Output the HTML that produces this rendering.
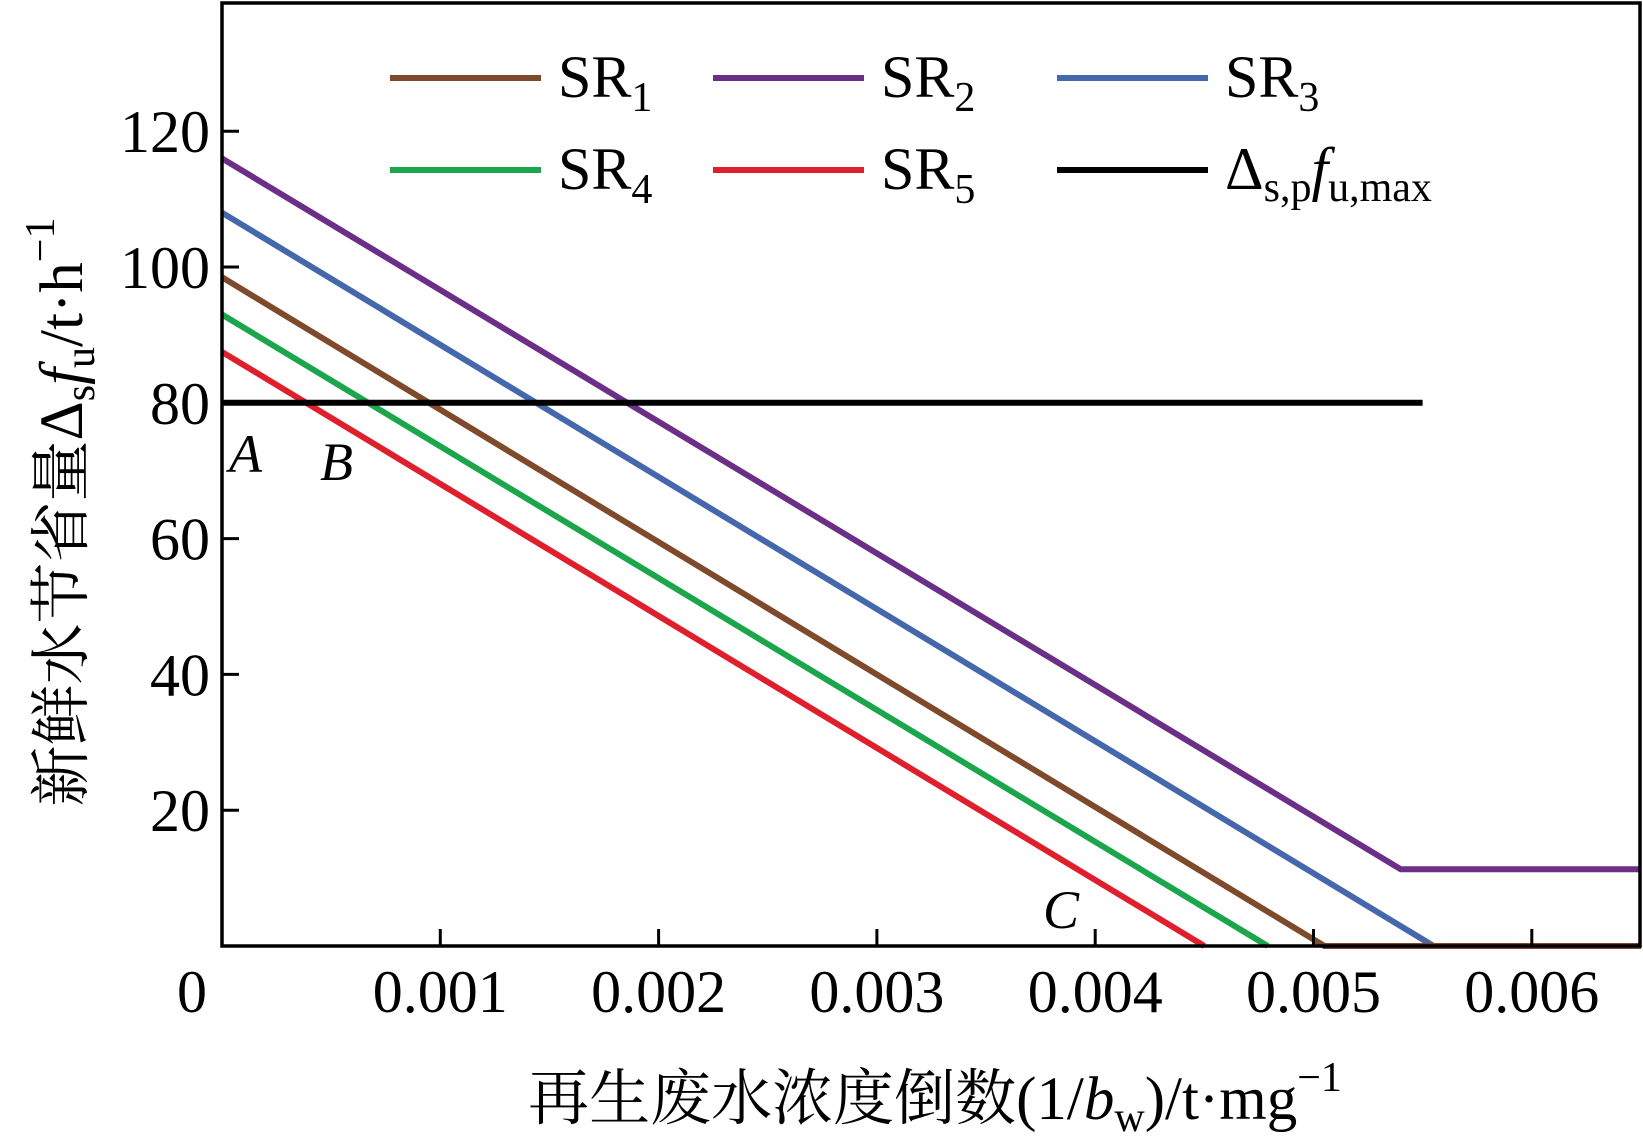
<!DOCTYPE html>
<html><head><meta charset="utf-8"><style>
html,body{margin:0;padding:0;background:#fff;}
svg{display:block;font-family:"Liberation Serif","Noto Serif CJK SC",serif;}
</style></head><body>
<svg id="chart" width="1643" height="1146" viewBox="0 0 1643 1146">
<rect x="0" y="0" width="1643" height="1146" fill="#fff"/>
<g id="marks"></g>
<rect x="222" y="3" width="1418" height="943" fill="none" stroke="#000" stroke-width="3.5"/>
<g id="ticks"></g>
<text x="192" y="1012" font-size="60" text-anchor="middle">0</text>
<text x="935" y="1119" font-size="61" text-anchor="middle">再生废水浓度倒数(1/<tspan font-style="italic">b</tspan><tspan font-size="42" dy="12">w</tspan><tspan dy="-12">)/t·mg</tspan><tspan font-size="42" dy="-28">−1</tspan></text>
<text transform="translate(82,512) rotate(-90)" font-size="61" text-anchor="middle">新鲜水节省量Δ<tspan font-size="42" dy="12">s</tspan><tspan dy="-12" font-style="italic">f</tspan><tspan font-size="42" dy="12">u</tspan><tspan dy="-12">/t·h</tspan><tspan font-size="42" dy="-28">−1</tspan></text>
<text x="229" y="472" font-size="54" font-style="italic">A</text>
<text x="320" y="480" font-size="54" font-style="italic">B</text>
<text x="1043" y="928" font-size="54" font-style="italic">C</text>
<g id="legend"></g>
</svg>
<script>
const xTicks = [0.001, 0.002, 0.003, 0.004, 0.005, 0.006];
const xTickLabels = ["0.001", "0.002", "0.003", "0.004", "0.005", "0.006"];
const yTicks = [20, 40, 60, 80, 100, 120];
const seriesNames = ["SR1", "SR2", "SR3", "SR4", "SR5", "max"];
const sr1X = [0, 0.00505, 0.0065];
const sr1Y = [98.5, 0, 0];
const sr2X = [0, 0.0054, 0.0065];
const sr2Y = [116, 11.3, 11.3];
const sr3X = [0, 0.00555];
const sr3Y = [108, 0];
const sr4X = [0, 0.00479];
const sr4Y = [93, 0];
const sr5X = [0, 0.0045];
const sr5Y = [87.5, 0];
const maxX = [0, 0.0055];
const maxY = [80, 80];

const NS = "http://www.w3.org/2000/svg";
const X0 = 222, XPER = 218300, Y0 = 946, YPER = 6.79;
function sx(v){ return X0 + v * XPER; }
function sy(v){ return Y0 - v * YPER; }
function mk(tag, attrs, parent){ const e = document.createElementNS(NS, tag); for (const k in attrs) e.setAttribute(k, attrs[k]); parent.appendChild(e); return e; }

const marks = document.getElementById('marks');
const series = [
  {name:'sr3', xs:sr3X, ys:sr3Y, c:'#4468ab'},
  {name:'sr2', xs:sr2X, ys:sr2Y, c:'#6b2f87'},
  {name:'sr4', xs:sr4X, ys:sr4Y, c:'#1ba64c'},
  {name:'sr5', xs:sr5X, ys:sr5Y, c:'#e01f2d'},
  {name:'sr1', xs:sr1X, ys:sr1Y, c:'#7e4a2b'},
  {name:'max', xs:maxX, ys:maxY, c:'#000'}
];
series.forEach(s => {
  const pts = s.xs.map((x,i) => sx(x).toFixed(1) + ',' + sy(s.ys[i]).toFixed(1)).join(' ');
  const pl = mk('polyline', {points: pts, fill:'none', stroke:s.c, 'stroke-width':6}, marks);
  
  
});

const ticks = document.getElementById('ticks');
xTicks.forEach((t,i) => {
  const l = mk('line', {x1:sx(t), x2:sx(t), y1:Y0, y2:Y0-17, stroke:'#000', 'stroke-width':3}, ticks);
  
  
  const tx = mk('text', {x:sx(t), y:1012, 'font-size':60, 'text-anchor':'middle'}, ticks);
  tx.textContent = xTickLabels[i];
  
  
});
yTicks.forEach(t => {
  const l = mk('line', {x1:X0, x2:X0+17, y1:sy(t), y2:sy(t), stroke:'#000', 'stroke-width':3}, ticks);
  
  
  const tx = mk('text', {x:210, y:sy(t)+21, 'font-size':60, 'text-anchor':'end'}, ticks);
  tx.textContent = String(t);
  
  
});

const legend = document.getElementById('legend');
const leg = [
  {c:'#7e4a2b', t:'SR', s:'1', x:390, y:78},
  {c:'#6b2f87', t:'SR', s:'2', x:713, y:78},
  {c:'#4468ab', t:'SR', s:'3', x:1057, y:78},
  {c:'#1ba64c', t:'SR', s:'4', x:390, y:170},
  {c:'#e01f2d', t:'SR', s:'5', x:713, y:170},
  {c:'#000', t:'Δ', s:'s,p', x:1057, y:170, max:true}
];
leg.forEach(e => {
  const g = mk('g', {}, legend);
  
  
  mk('line', {x1:e.x, x2:e.x+151, y1:e.y, y2:e.y, stroke:e.c, 'stroke-width':6}, g);
  const tx = mk('text', {x:e.x+168, y:e.y+19, 'font-size':60}, g);
  if (e.max) {
    tx.innerHTML = 'Δ<tspan font-size="42" dy="12">s,p</tspan><tspan dy="-12" font-style="italic">f</tspan><tspan font-size="42" dy="12">u,max</tspan>';
  } else {
    tx.innerHTML = e.t + '<tspan font-size="42" dy="14">' + e.s + '</tspan>';
  }
});
</script>
</body></html>
